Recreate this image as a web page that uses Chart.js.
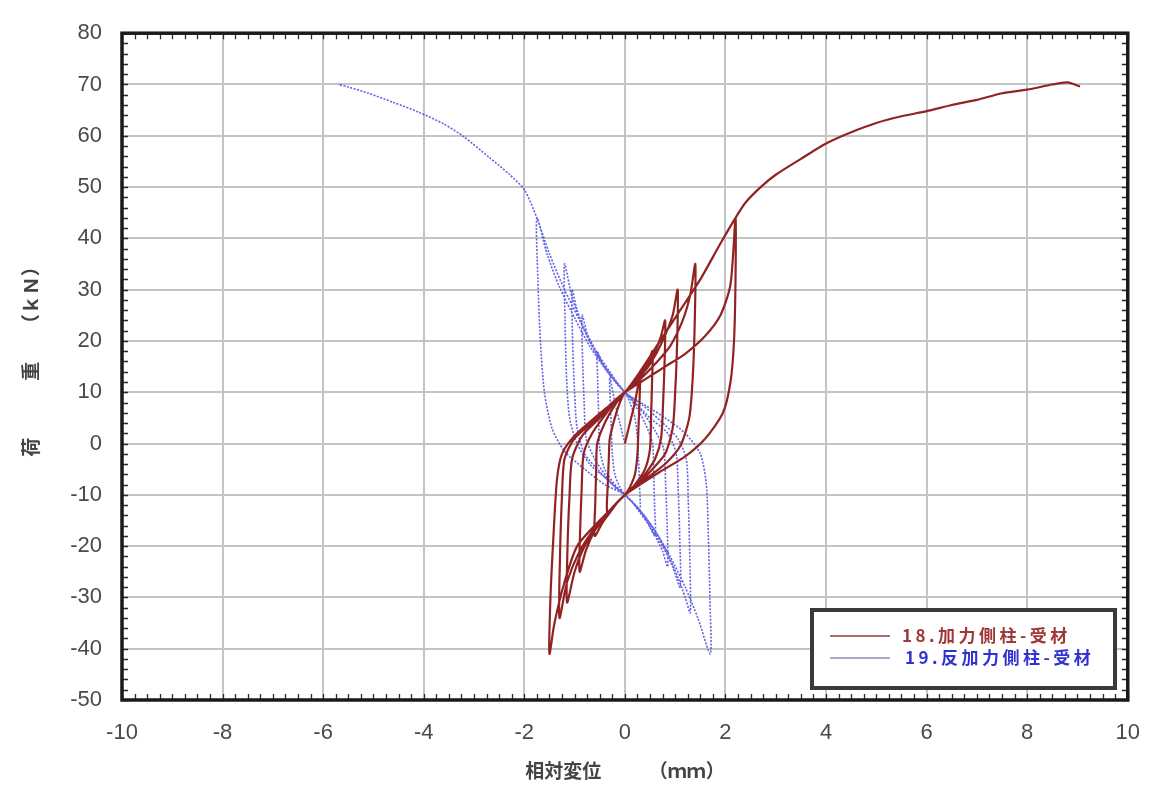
<!DOCTYPE html>
<html><head><meta charset="utf-8">
<script src="https://cdn.jsdelivr.net/npm/chart.js@4.4.1/dist/chart.umd.min.js"></script>
<style>html,body{margin:0;padding:0;background:#fff}#wrap{width:1160px;height:787px}</style>
</head><body><div id="wrap"><canvas id="c" width="1160" height="787"></canvas></div>
<script>
const seriesNames = ['18.加力側柱-受材', '19.反加力側柱-受材'];
const xTitle = '相対変位　　　（ｍｍ）';
const yTitle = '　荷　　　重　　（ｋＮ）';
const xTicks = [-10, -8, -6, -4, -2, 0, 2, 4, 6, 8, 10];
const yTicks = [-50, -40, -30, -20, -10, 0, 10, 20, 30, 40, 50, 60, 70, 80];

// 18. red series, read cycle by cycle [x (mm), y (kN)]
const redCycle1 = [[0,0],[0.1,4],[0.2,8],[0.3,13],[0.29,8],[0.27,3],[0.25,-2],[0.2,-6],[0.1,-8.5],[0,-10],
  [-0.1,-11],[-0.2,-12],[-0.35,-13.5],[-0.34,-8],[-0.32,-3],[-0.3,1],[-0.2,5],[-0.1,8],[0,10]];
const redCycle2 = [[0.15,11.5],[0.3,13.5],[0.45,15.5],[0.55,18],[0.54,12],[0.52,5],[0.5,-1],[0.4,-5],[0.2,-8],[0,-10],
  [-0.15,-11.5],[-0.3,-13.5],[-0.45,-15.5],[-0.6,-18],[-0.59,-12],[-0.57,-5],[-0.55,0],[-0.4,4],[-0.2,7.5],[0,10]];
const redCycle3 = [[0.2,12],[0.4,14.5],[0.6,18],[0.72,21],[0.8,24],[0.79,16],[0.76,8],[0.72,1],[0.6,-3],[0.4,-6],[0.2,-8.5],[0,-10],
  [-0.2,-12],[-0.4,-14.5],[-0.6,-17],[-0.78,-21],[-0.9,-25],[-0.89,-17],[-0.86,-9],[-0.82,-2],[-0.65,2],[-0.4,5.5],[-0.2,8],[0,10]];
const redCycle4 = [[0.25,12.5],[0.5,15.5],[0.75,20],[0.95,25],[1.05,30],[1.04,20],[1.0,10],[0.95,3],[0.8,-2],[0.5,-5.5],[0.25,-8],[0,-10],
  [-0.25,-12.5],[-0.5,-15.5],[-0.8,-20],[-1.0,-25],[-1.15,-31],[-1.14,-20],[-1.1,-10],[-1.05,-3],[-0.85,1.5],[-0.5,5],[-0.25,7.5],[0,10]];
const redCycle5 = [[0.3,12.5],[0.6,15.5],[0.9,19],[1.15,24],[1.3,29],[1.4,35],[1.39,24],[1.35,13],[1.28,5],[1.1,-0.5],[0.8,-4],[0.4,-7],[0,-10],
  [-0.3,-13],[-0.6,-16.5],[-0.9,-21],[-1.15,-27],[-1.3,-34],[-1.29,-22],[-1.25,-10],[-1.2,-3],[-1.0,1],[-0.6,4.5],[-0.3,7.5],[0,10]];
const redCycle6 = [[0.4,12.5],[0.8,15],[1.2,17.5],[1.6,21],[1.9,25],[2.1,31],[2.2,44],[2.2,32],[2.17,20],[2.1,12],[1.95,6],[1.6,1],[1.2,-2.5],[0.7,-5.5],[0.3,-8],[0,-10],
  [-0.3,-13],[-0.6,-16],[-0.95,-20],[-1.2,-27],[-1.4,-35],[-1.5,-41],[-1.48,-30],[-1.42,-18],[-1.35,-7],[-1.25,-2],[-1.0,1.5],[-0.6,5],[-0.3,7.5],[0,10]];
const redFinal = [[0.3,14],[0.7,20],[1.1,26],[1.5,32],[1.9,39],[2.2,44],[2.4,47],[2.7,50],[3.0,52.4],[3.5,55.5],[4.0,58.5],[4.5,60.7],
  [5.0,62.5],[5.5,63.8],[6.0,64.8],[6.5,66],[7.0,67],[7.5,68.3],[8.0,69],[8.5,70],[8.8,70.4],[9.05,69.6]];

// 19. blue series
const blueCycle1 = [[0,0],[-0.1,4],[-0.2,8],[-0.3,13],[-0.29,8],[-0.27,3],[-0.25,-2],[-0.2,-6],[-0.1,-8.5],[0,-10],
  [0.1,-11],[0.2,-12],[0.3,-13],[0.29,-8],[0.27,-3],[0.25,1],[0.2,5],[0.1,8],[0,10]];
const blueCycle2 = [[-0.15,11.5],[-0.3,13.5],[-0.45,15.5],[-0.55,18],[-0.54,12],[-0.52,5],[-0.5,-1],[-0.4,-5],[-0.2,-8],[0,-10],
  [0.15,-11.5],[0.3,-13.5],[0.45,-15.5],[0.6,-18],[0.59,-12],[0.57,-5],[0.55,0],[0.4,4],[0.2,7.5],[0,10]];
const blueCycle3 = [[-0.2,12.5],[-0.4,15],[-0.6,18.5],[-0.75,21.5],[-0.85,25],[-0.84,16],[-0.81,8],[-0.77,1],[-0.6,-3],[-0.4,-6],[-0.2,-8.5],[0,-10],
  [0.2,-12],[0.4,-14.5],[0.6,-18],[0.75,-21],[0.85,-24],[0.84,-16],[0.81,-8],[0.77,-1],[0.6,2.5],[0.4,5.5],[0.2,8],[0,10]];
const blueCycle4 = [[-0.25,13],[-0.5,16.5],[-0.75,21],[-0.95,26],[-1.05,30],[-1.04,20],[-1.0,10],[-0.95,3],[-0.8,-2],[-0.5,-5.5],[-0.25,-8],[0,-10],
  [0.25,-12.5],[0.5,-16],[0.75,-20],[0.95,-24],[1.1,-28],[1.09,-18],[1.06,-9],[1.02,-2],[0.85,2],[0.5,5],[0.25,7.5],[0,10]];
const blueCycle5 = [[-0.3,13.5],[-0.6,18],[-0.85,23],[-1.05,28.5],[-1.2,35],[-1.19,24],[-1.16,13],[-1.1,5],[-0.95,0],[-0.7,-4],[-0.35,-7],[0,-10],
  [0.3,-13],[0.6,-17],[0.85,-21.5],[1.05,-26],[1.2,-30],[1.3,-33],[1.29,-22],[1.26,-11],[1.22,-3],[1.05,1],[0.7,4.5],[0.35,7.5],[0,10]];
const blueCycle6 = [[-0.35,14],[-0.7,19],[-1.0,24.5],[-1.3,30.5],[-1.55,37],[-1.75,44],[-1.73,32],[-1.68,20],[-1.6,10],[-1.45,3],[-1.2,-1.5],[-0.8,-5],[-0.4,-8],[0,-10],
  [0.3,-13],[0.6,-17],[0.9,-22],[1.2,-28],[1.45,-34],[1.7,-41],[1.69,-30],[1.66,-18],[1.62,-8],[1.5,-2],[1.2,2],[0.8,5],[0.4,7.5],[0,10]];
const blueFinal = [[-0.3,14],[-0.6,18.5],[-0.9,24],[-1.2,30],[-1.5,37],[-1.75,44],[-2.0,49.5],[-2.3,52.5],[-2.7,55.8],[-3.2,59.8],
  [-3.6,62.3],[-4.1,64.6],[-4.6,66.5],[-5.1,68.3],[-5.5,69.5],[-5.7,70]];

const toXY = arr => arr.map(([x, y]) => ({x, y}));
const redData = toXY([].concat(redCycle1, redCycle2, redCycle3, redCycle4, redCycle5, redCycle6, redFinal));
const blueData = toXY([].concat(blueCycle1, blueCycle2, blueCycle3, blueCycle4, blueCycle5, blueCycle6, blueFinal));

const RED = 'rgb(145,35,35)';
const BLUE = 'rgba(70,70,225,0.85)';
const CJK = "'Noto Sans CJK JP', 'Liberation Sans', sans-serif";

const framePlugin = {
  id: 'frame',
  afterDatasetsDraw(chart) {
    const {ctx, chartArea: a, scales: {x, y}} = chart;
    ctx.save();
    ctx.strokeStyle = '#2a2a2a';
    ctx.lineWidth = 1.3;
    ctx.beginPath();
    for (let v = -50; v <= 80; v += 2) {
      const p = Math.round(y.getPixelForValue(v)) + 0.5;
      ctx.moveTo(a.left, p); ctx.lineTo(a.left + 6, p);
      ctx.moveTo(a.right, p); ctx.lineTo(a.right - 6, p);
    }
    for (let v = -10; v <= 10; v += 0.25) {
      const p = Math.round(x.getPixelForValue(v)) + 0.5;
      ctx.moveTo(p, a.bottom); ctx.lineTo(p, a.bottom - 6);
      ctx.moveTo(p, a.top); ctx.lineTo(p, a.top + 6);
    }
    ctx.stroke();
    ctx.strokeStyle = '#1a1a1a';
    ctx.lineWidth = 3.5;
    ctx.strokeRect(a.left, a.top, a.right - a.left, a.bottom - a.top);
    ctx.restore();
  },
  afterDraw(chart) {
    const {ctx} = chart;
    const ds = chart.data.datasets;
    ctx.save();
    const bx = 812, by = 610, bw = 303, bh = 78;
    ctx.fillStyle = '#fff';
    ctx.fillRect(bx, by, bw, bh);
    ctx.strokeStyle = '#3a3a3a';
    ctx.lineWidth = 4;
    ctx.strokeRect(bx, by, bw, bh);
    const rows = [{y: 636, tx: 902, tc: 'rgb(160,55,55)'}, {y: 658, tx: 905, tc: 'rgb(50,50,210)'}];
    rows.forEach((r, i) => {
      ctx.beginPath();
      ctx.strokeStyle = i === 0 ? 'rgb(185,105,105)' : 'rgb(170,170,200)';
      ctx.lineWidth = 2;
      ctx.setLineDash([]);
      ctx.moveTo(830, r.y); ctx.lineTo(890, r.y);
      ctx.stroke();
      ctx.fillStyle = r.tc;
      ctx.font = "bold 17px " + CJK;
      try { ctx.letterSpacing = '3.5px'; } catch (e) {}
      ctx.textBaseline = 'middle';
      ctx.textAlign = 'left';
      ctx.fillText(ds[i].label, r.tx, r.y);
    });
    ctx.restore();
  }
};

new Chart(document.getElementById('c'), {
  type: 'scatter',
  data: {
    datasets: [
      {label: seriesNames[0], data: redData, showLine: true, borderColor: RED, backgroundColor: RED,
       borderWidth: 2.2, pointRadius: 0, tension: 0.25},
      {label: seriesNames[1], data: blueData, showLine: true, borderColor: BLUE, backgroundColor: BLUE,
       borderWidth: 1.6, borderDash: [2, 1.5], pointRadius: 0, tension: 0.25}
    ]
  },
  options: {
    responsive: false,
    animation: false,
    layout: {padding: {top: 28, right: 28, left: 0, bottom: 0}},
    plugins: {legend: {display: false}, tooltip: {enabled: false}},
    scales: {
      x: {
        type: 'linear', min: -10, max: 10,
        afterBuildTicks: s => { s.ticks = xTicks.map(v => ({value: v})); },
        afterFit: s => { s.height = 87; },
        grid: {color: '#c4c4c4', lineWidth: 2, drawTicks: false},
        border: {display: false},
        ticks: {color: '#4a4a4a', padding: 20, font: {family: "'Liberation Sans', sans-serif", size: 22}},
        title: {display: true, text: xTitle, color: '#444', padding: {top: 0, bottom: 5},
                font: {family: CJK, size: 19, weight: 'bold'}}
      },
      y: {
        type: 'linear', min: -50, max: 80,
        afterBuildTicks: s => { s.ticks = yTicks.map(v => ({value: v})); },
        afterFit: s => { s.width = 122; },
        grid: {color: '#c4c4c4', lineWidth: 2, drawTicks: false},
        border: {display: false},
        ticks: {color: '#4a4a4a', padding: 20, font: {family: "'Liberation Sans', sans-serif", size: 22}},
        title: {display: true, text: yTitle, color: '#444', padding: {top: 19, bottom: 0},
                font: {family: CJK, size: 19, weight: 'bold'}}
      }
    }
  },
  plugins: [framePlugin]
});
</script>
</body></html>
